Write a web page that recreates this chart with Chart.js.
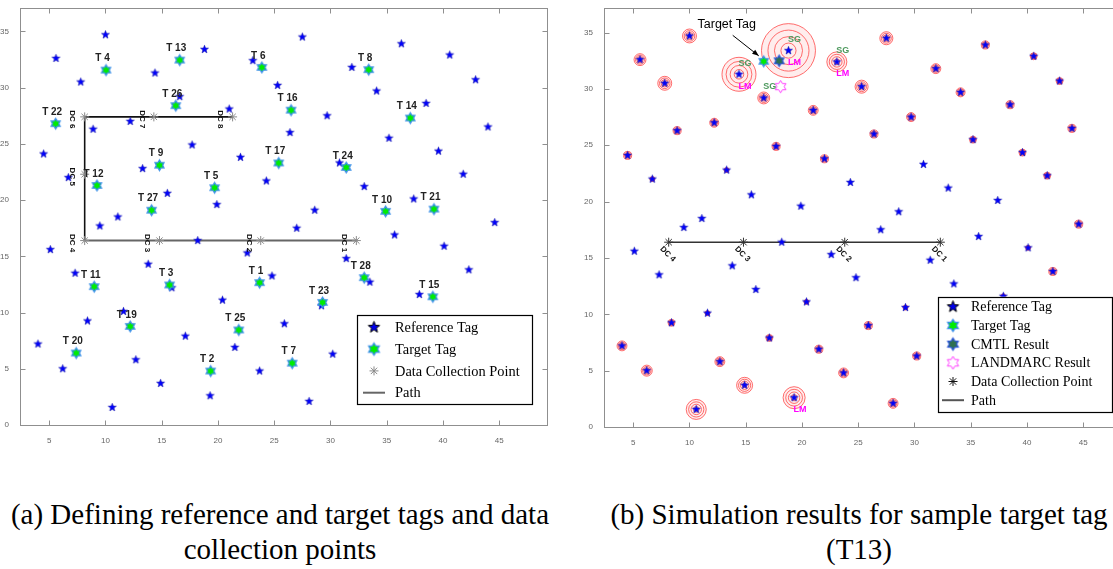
<!DOCTYPE html>
<html><head><meta charset="utf-8">
<script src="https://cdn.jsdelivr.net/npm/chart.js@4.4.1/dist/chart.umd.min.js"></script>
<style>
html,body{margin:0;padding:0;background:#fff;width:1113px;height:569px;overflow:hidden;position:relative;}
#wa{position:absolute;left:0;top:0;width:560px;height:445px;}
#wb{position:absolute;left:584px;top:0;width:560px;height:445px;}
.cap{position:absolute;font-family:"Liberation Serif","Times New Roman",serif;font-size:29px;color:#000;text-align:center;line-height:35px;white-space:nowrap;}
</style></head>
<body>
<div id="wa"><canvas id="ca" width="560" height="445"></canvas></div>
<div id="wb"><canvas id="cb" width="560" height="445"></canvas></div>
<div class="cap" style="left:0;width:560px;top:497px">(a) Defining reference and target tags and data<br>collection points</div>
<div class="cap" style="left:600px;width:518px;top:497px">(b) Simulation results for sample target tag<br>(T13)</div>
<script>
// ---------------- data ----------------
const xTicks=[5,10,15,20,25,30,35,40,45];
const yTicks=[0,5,10,15,20,25,30,35];

const refX=[10.0,5.6,7.8,14.4,18.8,23.1,16.6,21.0,8.9,12.2,
 4.5,17.7,22.0,6.7,13.3,24.3,15.5,19.9,11.1,9.5,
 27.5,36.3,40.6,42.9,31.9,25.3,34.1,38.5,29.7,44.0,
 26.4,35.2,39.6,30.8,41.8,33.0,37.4,28.6,44.6,27.0,
 5.1,18.2,22.6,7.3,13.8,15.9,24.8,20.4,11.6,8.4,
 4.0,17.1,21.5,6.2,12.7,23.7,14.9,19.3,10.6,35.7,
 40.1,31.4,42.3,33.5,37.9,29.2,25.9,30.2,28.1];
const refY=[34.7,32.6,30.5,31.3,33.4,32.4,29.2,28.1,26.3,27.0,
 24.1,24.9,23.8,22.0,22.8,21.7,20.6,19.6,18.5,17.7,
 34.5,33.9,32.9,30.7,31.8,30.2,29.7,28.6,27.5,26.5,
 26.0,25.5,24.35,23.3,22.3,21.2,20.1,19.1,18.0,17.5,
 15.6,16.4,15.3,13.5,14.3,12.2,13.25,11.1,10.1,9.25,
 7.2,7.9,6.9,5.0,5.8,4.8,3.7,2.6,1.56,16.9,
 15.9,14.8,13.8,12.7,11.6,10.6,9.0,6.3,2.1];
// estimated error radius around each reference tag (axis units, 0 = none)
const ringR=[0.62,0.53,0.62,1.51,2.4,0.89,0.53,0.44,0.36,0.4,
 0.36,0.36,0.36,0.22,0.22,0,0,0,0,0,
 0.58,0.36,0.31,0.31,0.44,0.58,0.4,0.36,0.4,0.36,
 0.36,0.31,0.31,0,0.31,0,0,0,0.36,0,
 0,0,0,0,0,0,0,0.22,0.22,0.31,
 0.44,0.31,0.36,0.49,0.44,0.44,0.71,0.98,0.89,0,
 0.22,0,0.36,0,0.22,0.22,0.36,0.36,0.44];

const targetNames=['T 1','T 2','T 3','T 4','T 5','T 6','T 7','T 8','T 9','T 10',
 'T 11','T 12','T 13','T 14','T 15','T 16','T 17','T 19','T 20','T 21',
 'T 22','T 23','T 24','T 25','T 26','T 27','T 28'];
const targetX=[23.7,19.35,15.7,10.05,19.7,23.9,26.6,33.4,14.8,34.9,
 9.0,9.24,16.6,37.1,39.1,26.5,25.4,12.2,7.4,39.2,
 5.57,29.3,31.4,21.85,16.25,14.1,33.0];
const targetY=[12.66,4.8,12.45,31.56,21.1,31.8,5.5,31.6,23.1,19.0,
 12.3,21.3,32.45,27.3,11.4,28.0,23.3,8.77,6.4,19.2,
 26.8,10.9,22.9,8.45,28.4,19.1,13.1];

const dcNames=['DC 1','DC 2','DC 3','DC 4','DC 5','DC 6','DC 7','DC 8'];
const dcX=[32.3,23.8,14.8,8.15,8.15,8.15,14.3,21.3];
const dcY=[16.4,16.4,16.4,16.4,22.3,27.4,27.4,27.4];

const sampleTargetX=[16.6], sampleTargetY=[32.45];
const cmtlX=[17.97], cmtlY=[32.5];
const landmarcX=[18.1], landmarcY=[30.2];
const sgX=[18.8,14.4,23.1,16.6], sgY=[33.4,31.3,32.4,29.2];
const lmX=[18.8,14.4,23.1,19.3], lmY=[33.4,31.3,32.4,2.6];

// ---------------- helpers ----------------
const pts=(xs,ys)=>xs.map((x,i)=>({x,y:ys[i]}));
function makeStar(n,R,ratio,fill,stroke,lw){
  const s=Math.ceil(2*R+2*lw+2)|1;
  const c=document.createElement('canvas');c.width=c.height=s;
  const g=c.getContext('2d');const cx=s/2,cy=s/2;
  g.beginPath();
  for(let i=0;i<2*n;i++){const r=i%2===0?R:R*ratio;const a=-Math.PI/2+i*Math.PI/n;
    const x=cx+r*Math.cos(a),y=cy+r*Math.sin(a);i?g.lineTo(x,y):g.moveTo(x,y);}
  g.closePath();
  if(fill){g.fillStyle=fill;g.fill();}
  if(stroke){g.strokeStyle=stroke;g.lineWidth=lw;g.lineJoin='miter';g.stroke();}
  return c;
}
const refImg=makeStar(5,4.2,0.42,'#0000ff','#1b1bb0',0.6);
const refLeg=makeStar(5,6,0.42,'#0000ee','#000',1);
const tgtImg=makeStar(6,5.2,0.6,'#00ee00','#3a8fe8',1.3);
const tgtLeg=makeStar(6,6,0.6,'#00ee00','#3a8fe8',1.4);
const cmtlImg=makeStar(6,5.4,0.6,'#2e7050','#2a55d8',1.3);
const cmtlLeg=makeStar(6,6,0.6,'#2e7050','#2a55d8',1.3);
const lmImg=makeStar(6,6.2,0.58,'#ffffff','#ff40ff',1);
const lmLeg=makeStar(6,6.5,0.58,'#ffffff','#ff40ff',1);

function scalesCfg(ymax,xh){
  return {
    x:{type:'linear',min:2.4,max:49.25,grid:{display:false},border:{display:false},
      afterBuildTicks:s=>{s.ticks=xTicks.map(v=>({value:v}));},
      ticks:{font:{size:8,family:'Liberation Sans'},color:'#666',padding:3,maxRotation:0,autoSkip:false,callback:v=>String(v)},
      afterFit:s=>{s.height=xh;}},
    y:{type:'linear',min:0,max:ymax,grid:{display:false},border:{display:false},
      afterBuildTicks:s=>{s.ticks=yTicks.map(v=>({value:v}));},
      ticks:{font:{size:8,family:'Liberation Sans'},color:'#666',padding:3,autoSkip:false,callback:v=>String(v)},
      afterFit:s=>{s.width=20;}}
  };
}
const framePlugin={id:'frame',beforeDatasetsDraw(chart){
  const {ctx,chartArea:a,scales:{x,y}}=chart;
  ctx.save();ctx.strokeStyle='#8f8f8f';ctx.lineWidth=1;
  const L=Math.round(a.left)+0.5,R=Math.round(a.right)+0.5,T=Math.round(a.top)+0.5,B=Math.round(a.bottom)+0.5;
  ctx.strokeRect(L,T,R-L,B-T);
  ctx.beginPath();
  xTicks.forEach(v=>{const p=Math.round(x.getPixelForValue(v))+0.5;ctx.moveTo(p,T);ctx.lineTo(p,T+5);ctx.moveTo(p,B);ctx.lineTo(p,B-5);});
  yTicks.forEach(v=>{const p=Math.round(y.getPixelForValue(v))+0.5;ctx.moveTo(L,p);ctx.lineTo(L+5,p);ctx.moveTo(R,p);ctx.lineTo(R-5,p);});
  ctx.stroke();ctx.restore();
}};
function drawAsterisk(c,x,y,r,color){
  c.save();c.strokeStyle=color;c.lineWidth=1;c.beginPath();
  for(let k=0;k<4;k++){const a=k*Math.PI/4;c.moveTo(x-r*Math.cos(a),y-r*Math.sin(a));c.lineTo(x+r*Math.cos(a),y+r*Math.sin(a));}
  c.stroke();c.restore();
}
function legendPlugin(cfg){return {id:'lg',afterDraw(chart){
  const c=chart.ctx;const [x1,y1,x2,y2]=cfg.box;
  c.save();c.fillStyle='#fff';c.fillRect(x1,y1,x2-x1,y2-y1);
  c.strokeStyle='#000';c.lineWidth=1.2;c.strokeRect(Math.round(x1)+.5,Math.round(y1)+.5,Math.round(x2-x1),Math.round(y2-y1));
  const items=chart.data.datasets.filter(d=>d.legendSym);
  c.font=cfg.font;c.textBaseline='middle';c.textAlign='left';
  items.forEach((d,i)=>{const y=cfg.y0+i*cfg.dy;const s=d.legendSym;
    if(s.img){c.drawImage(s.img,cfg.symX-s.img.width/2,y-s.img.height/2);}
    else if(s.ast){drawAsterisk(c,cfg.symX,y,4.5,s.color);}
    else if(s.line){c.strokeStyle=s.color;c.lineWidth=s.width;c.beginPath();c.moveTo(cfg.symX-11,y);c.lineTo(cfg.symX+11,y);c.stroke();}
    c.fillStyle='#000';c.fillText(d.label,cfg.textX,y+1);});
  c.restore();}};}

const common={responsive:false,maintainAspectRatio:false,animation:false,events:[],devicePixelRatio:1,
  plugins:{legend:{display:false},tooltip:{enabled:false}}};

// ---------------- chart (a) ----------------
const labelsA={id:'labelsA',afterDatasetsDraw(chart){
  const c=chart.ctx,{x,y}=chart.scales;c.save();
  c.fillStyle='#222';c.font='bold 10px "Liberation Sans"';c.textAlign='center';c.textBaseline='middle';
  targetNames.forEach((n,i)=>{c.fillText(n,x.getPixelForValue(targetX[i])-3.5,y.getPixelForValue(targetY[i])-11.5);});
  c.font='bold 8px "Liberation Sans"';c.fillStyle='#111';
  dcNames.forEach((n,i)=>{c.save();c.translate(x.getPixelForValue(dcX[i])-12,y.getPixelForValue(dcY[i])+2.5);c.rotate(Math.PI/2);c.fillText(n,0,0);c.restore();});
  c.restore();}};

new Chart(document.getElementById('ca'),{type:'scatter',
  data:{datasets:[
    {label:'Reference Tag',data:pts(refX,refY),pointStyle:refImg,pointRadius:4,order:4,legendSym:{img:refLeg}},
    {label:'Target Tag',data:pts(targetX,targetY),pointStyle:tgtImg,pointRadius:4,order:3,legendSym:{img:tgtLeg}},
    {label:'Data Collection Point',data:pts(dcX,dcY),pointStyle:'star',pointRadius:4.5,pointBorderColor:'#8a8a8a',pointBackgroundColor:'#8a8a8a',pointBorderWidth:1,order:5,legendSym:{ast:true,color:'#8a8a8a'}},
    {label:'Path',data:pts(dcX,dcY),showLine:true,pointRadius:0,borderWidth:1.6,borderColor:'#111',order:10,
      segment:{borderColor:ctx=>(ctx.p0.parsed.y===ctx.p1.parsed.y&&ctx.p0.parsed.y<20)?'#666':'#111',borderWidth:ctx=>(ctx.p0.parsed.y===ctx.p1.parsed.y&&ctx.p0.parsed.y<20)?2:1.6},
      legendSym:{line:true,color:'#666',width:2}}
  ]},
  options:Object.assign({},common,{layout:{padding:{left:0,top:5,right:13,bottom:0}},scales:scalesCfg(37.1,20)}),
  plugins:[framePlugin,labelsA,legendPlugin({box:[357.3,314.7,532.7,404],y0:327.3,dy:21.8,symX:374,textX:395,font:'14.4px "Liberation Serif"'})]
});

// ---------------- chart (b) ----------------
const ringPts=refX.map((x,i)=>({x,y:refY[i],r:ringR[i]})).filter(p=>p.r>0);
const ringFactors=[1,0.76,0.52,0.28];
const ringSets=ringFactors.map((f,k)=>({label:'ring'+k,data:ringPts,pointStyle:'circle',
  pointRadius:ctx=>{const p=ctx.raw;if(!p)return 0;const sx=ctx.chart.scales.x;return Math.max(0.8,Math.abs(sx.getPixelForValue(p.r)-sx.getPixelForValue(0))*f);},
  pointBackgroundColor:k===0?'rgba(255,80,80,0.10)':'rgba(0,0,0,0)',pointBorderColor:'rgba(255,50,50,0.7)',pointBorderWidth:1,order:20+k}));

const labelsB={id:'labelsB',afterDatasetsDraw(chart){
  const c=chart.ctx,{x,y}=chart.scales;c.save();
  c.textAlign='center';c.textBaseline='middle';
  c.font='bold 8px "Liberation Sans"';c.fillStyle='#111';
  dcNames.slice(0,4).forEach((n,i)=>{c.save();c.translate(x.getPixelForValue(dcX[i])-1,y.getPixelForValue(dcY[i])+12);c.rotate(Math.PI/4);c.fillText(n,0,0);c.restore();});
  c.font='bold 9px "Liberation Sans"';c.fillStyle='#4f9a5f';
  sgX.forEach((v,i)=>c.fillText('SG',x.getPixelForValue(v)+6,y.getPixelForValue(sgY[i])-11));
  c.fillStyle='#ff00ff';
  lmX.forEach((v,i)=>c.fillText('LM',x.getPixelForValue(v)+6,y.getPixelForValue(lmY[i])+12));
  // annotation for sample target
  const tx=x.getPixelForValue(sampleTargetX[0]),ty=y.getPixelForValue(sampleTargetY[0]);
  c.fillStyle='#000';c.font='12.5px "Liberation Sans"';c.fillText('Target Tag',tx-37,ty-37);
  const ax=tx-31,ay=ty-26,bx=tx-5,by=ty-5.5;
  c.strokeStyle='#000';c.lineWidth=1;c.beginPath();c.moveTo(ax,ay);c.lineTo(bx,by);c.stroke();
  const ang=Math.atan2(by-ay,bx-ax);c.beginPath();c.moveTo(bx,by);
  c.lineTo(bx-7*Math.cos(ang-0.38),by-7*Math.sin(ang-0.38));c.lineTo(bx-7*Math.cos(ang+0.38),by-7*Math.sin(ang+0.38));c.closePath();c.fill();
  c.restore();}};

new Chart(document.getElementById('cb'),{type:'scatter',
  data:{datasets:[
    {label:'Reference Tag',data:pts(refX,refY),pointStyle:refImg,pointRadius:4,order:5,legendSym:{img:refLeg}},
    {label:'Target Tag',data:pts(sampleTargetX,sampleTargetY),pointStyle:tgtImg,pointRadius:4,order:3,legendSym:{img:tgtLeg}},
    {label:'CMTL Result',data:pts(cmtlX,cmtlY),pointStyle:cmtlImg,pointRadius:4,order:2,legendSym:{img:cmtlLeg}},
    {label:'LANDMARC Result',data:pts(landmarcX,landmarcY),pointStyle:lmImg,pointRadius:4,order:1,legendSym:{img:lmLeg}},
    {label:'Data Collection Point',data:pts(dcX.slice(0,4),dcY.slice(0,4)),pointStyle:'star',pointRadius:4.5,pointBorderColor:'#333',pointBackgroundColor:'#333',pointBorderWidth:1,order:6,legendSym:{ast:true,color:'#111'}},
    {label:'Path',data:pts(dcX.slice(0,4),dcY.slice(0,4)),showLine:true,pointRadius:0,borderWidth:1.6,borderColor:'#333',order:10,legendSym:{line:true,color:'#555',width:2}},
    ...ringSets
  ]},
  options:Object.assign({},common,{layout:{padding:{left:0,top:4,right:13,bottom:0}},scales:scalesCfg(37.2,18)}),
  plugins:[framePlugin,labelsB,legendPlugin({box:[353.7,296.7,527.7,411.7],y0:306.7,dy:18.7,symX:369,textX:387,font:'14px "Liberation Serif"'})]
});
</script>
</body></html>
